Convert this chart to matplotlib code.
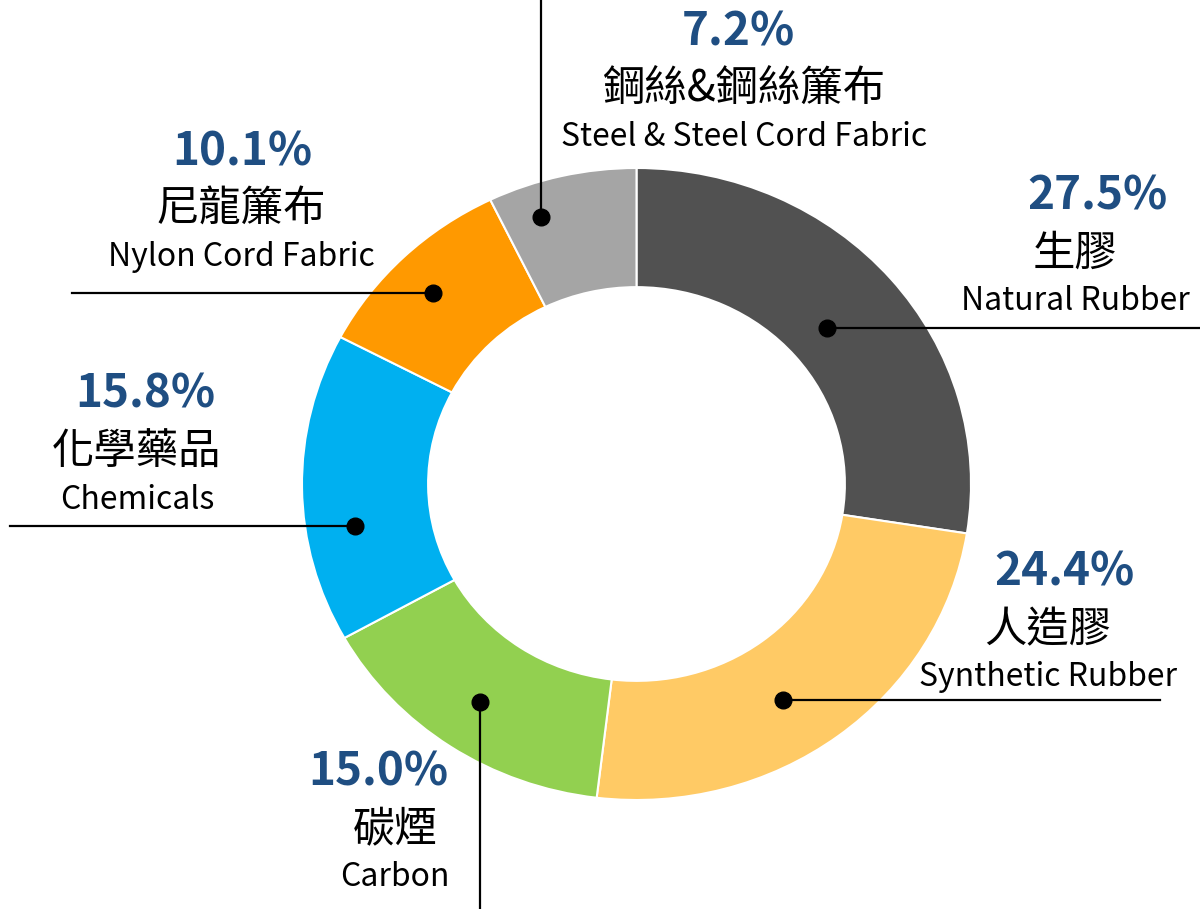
import matplotlib
matplotlib.use("Agg")
import matplotlib.pyplot as plt
import numpy as np

plt.rcParams['font.family'] = ['Noto Sans CJK TC', 'DejaVu Sans']

# data
names_zh = ['生膠', '人造膠', '碳煙', '化學藥品', '尼龍簾布', '鋼絲&鋼絲簾布']
names_en = ['Natural Rubber', 'Synthetic Rubber', 'Carbon', 'Chemicals',
            'Nylon Cord Fabric', 'Steel & Steel Cord Fabric']
shares = [27.5, 24.4, 15.0, 15.8, 10.1, 7.2]
colors = ['#515151', '#FFCA65', '#92D050', '#00B0F0', '#FF9900', '#A5A5A5']

# layout (pixel positions in the 1200x909 picture)
cx, cy, rx, ry = 636.5, 484, 334.5, 316
label_pos = [(1097, 1075), (1064, 1048), (378, 395), (145, 137), (242, 241), (738, 744)]
label_y = [196, 572, 772, 395, 152, 32]
dot_shift = [0.4, -4.5, -0.3, 8.3, 1.1, 5.7]      # degrees off the wedge middle
dot_r = [0.754, 0.812, 0.834, 0.852, 0.858, 0.892]
line_end = [('h', 1200), ('h', 1160), ('v', 909), ('h', 10), ('h', 72), ('v', 0)]


def px(x, y):
    return (x - cx) / rx, (cy - y) / ry


fig = plt.figure(figsize=(12, 9.09), dpi=100)
ax = fig.add_axes([0, 0, 1, 1])
wedges, _ = ax.pie(shares, colors=colors, startangle=90, counterclock=False,
                   radius=1, wedgeprops=dict(width=0.377, edgecolor='white', linewidth=1.5))
ax.set_aspect('auto')
x0, y1 = px(0, 0)
x1, y0 = px(1200, 909)
ax.set_xlim(x0, x1)
ax.set_ylim(y0, y1)
ax.axis('off')

for i, w in enumerate(wedges):
    mid = np.deg2rad((w.theta1 + w.theta2) / 2 + dot_shift[i])
    dx, dy = dot_r[i] * np.cos(mid), dot_r[i] * np.sin(mid)
    kind, end = line_end[i]
    if kind == 'h':
        ex, _ = px(end, 0)
        ax.plot([dx, ex], [dy, dy], color='black', lw=1.6, zorder=3)
    else:
        _, ey = px(0, end)
        ax.plot([dx, dx], [dy, ey], color='black', lw=1.6, zorder=3)
    ax.plot(dx, dy, 'o', color='black', ms=12, zorder=4)

    (pcx, tcx), ty = label_pos[i], label_y[i]
    ax.text(*px(pcx, ty), f'{shares[i]:.1f}%', ha='center', va='center',
            fontsize=33, fontweight='bold', color='#1F4E82')
    ax.text(*px(tcx, ty + 58), names_zh[i], ha='center', va='center',
            fontsize=30.5, color='black')
    ax.text(*px(tcx, ty + 105), names_en[i], ha='center', va='center',
            fontsize=23, color='black')

fig.savefig('out.png', dpi=100)
